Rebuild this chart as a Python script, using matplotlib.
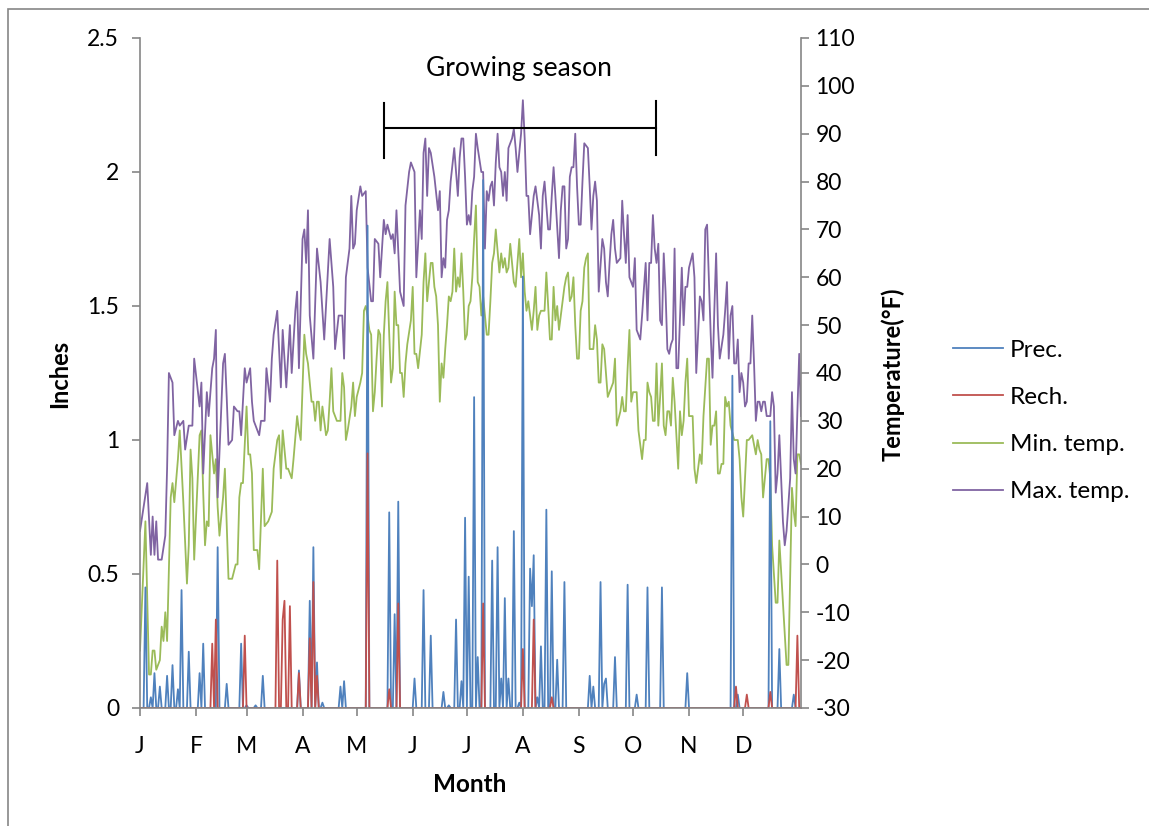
import numpy as np
import matplotlib
matplotlib.use("Agg")
import matplotlib.pyplot as plt
from matplotlib.lines import Line2D
from matplotlib.patches import Rectangle

plt.rcParams["font.family"] = ["Lato", "DejaVu Sans"]
plt.rcParams["axes.unicode_minus"] = False

# -- Data --------------------------------------------------------------------
month_labels = ["J", "F", "M", "A", "M", "J", "J", "A", "S", "O", "N", "D"]
month_start_days = [0, 31, 59, 90, 120, 151, 181, 212, 243, 273, 304, 334]

max_days = [0, 2, 4, 6, 7, 8, 9, 10, 12, 14, 15, 16, 18, 19, 21, 22, 24, 25, 27, 29,
            30, 33, 34, 35, 37, 38, 40, 41, 42, 43, 46, 47, 48, 49, 51, 52, 54, 55, 56, 58,
            59, 61, 62, 63, 66, 67, 69, 70, 72, 73, 74, 76, 78, 79, 81, 83, 84, 86, 87, 88,
            90, 91, 92, 93, 94, 96, 98, 100, 102, 105, 107, 108, 110, 112, 113, 114, 116, 117, 118, 119,
            120, 122, 123, 125, 126, 128, 129, 130, 132, 133, 135, 136, 137, 139, 140, 141, 142, 144, 146, 147,
            149, 150, 152, 153, 155, 156, 157, 158, 159, 160, 161, 163, 165, 166, 167, 168, 169, 170, 171, 172,
            174, 176, 177, 178, 179, 180, 181, 182, 183, 184, 185, 186, 187, 189, 190, 191, 192, 193, 194, 195,
            196, 197, 198, 199, 200, 201, 202, 203, 204, 206, 207, 208, 209, 211, 212, 213, 214, 215, 216, 218,
            219, 221, 222, 223, 224, 226, 227, 228, 229, 230, 232, 233, 234, 235, 236, 237, 238, 239, 240, 241,
            242, 243, 244, 245, 246, 248, 249, 250, 251, 252, 253, 254, 256, 257, 258, 259, 260, 261, 262, 263,
            264, 266, 267, 268, 269, 270, 271, 273, 274, 275, 277, 278, 280, 281, 282, 283, 284, 285, 286, 287,
            288, 289, 290, 291, 292, 293, 294, 295, 296, 297, 298, 300, 301, 302, 303, 304, 306, 307, 308, 310,
            311, 312, 313, 314, 316, 317, 318, 319, 320, 321, 323, 324, 325, 326, 327, 328, 329, 330, 331, 332,
            333, 334, 335, 336, 337, 338, 339, 340, 341, 342, 343, 344, 345, 346, 347, 349, 350, 351, 352, 353,
            354, 356, 357, 358, 360, 361, 362, 363, 364, 365, 366]
max_temp = [7, 12, 17, 2, 10, 2, 9, 1, 1, 6, 20, 40, 38, 27, 30, 29, 30, 24, 29, 29,
            43, 33, 38, 19, 36, 31, 41, 43, 49, 14, 42, 44, 35, 25, 26, 33, 32, 32, 27, 41,
            38, 41, 34, 30, 27, 30, 30, 41, 34, 43, 48, 53, 37, 49, 37, 50, 40, 53, 57, 41,
            68, 70, 63, 74, 52, 43, 66, 59, 47, 68, 58, 45, 52, 52, 43, 60, 66, 77, 66, 67,
            74, 79, 77, 78, 62, 55, 55, 68, 67, 60, 72, 69, 71, 68, 69, 65, 74, 57, 54, 75,
            82, 84, 82, 60, 74, 68, 86, 89, 77, 87, 86, 81, 74, 78, 60, 64, 62, 72, 74, 80,
            87, 77, 85, 89, 89, 81, 71, 73, 71, 78, 81, 90, 87, 82, 82, 66, 78, 76, 79, 80,
            75, 84, 90, 83, 82, 77, 82, 76, 87, 89, 91, 87, 82, 90, 97, 89, 77, 77, 69, 77,
            79, 73, 66, 77, 80, 70, 70, 77, 83, 77, 64, 74, 79, 79, 66, 68, 81, 83, 83, 90,
            79, 71, 71, 80, 88, 87, 79, 70, 77, 80, 76, 57, 68, 66, 59, 56, 63, 69, 72, 66,
            63, 64, 76, 69, 63, 73, 60, 58, 64, 49, 47, 52, 63, 51, 63, 63, 73, 66, 63, 67,
            51, 50, 65, 57, 45, 44, 46, 47, 66, 41, 41, 62, 50, 58, 58, 62, 65, 60, 40, 56,
            55, 51, 70, 71, 48, 39, 53, 65, 50, 43, 48, 53, 59, 43, 52, 54, 42, 42, 47, 36,
            40, 38, 33, 34, 42, 42, 52, 42, 30, 34, 34, 32, 34, 34, 31, 31, 36, 33, 15, 19,
            27, 9, 4, 7, 18, 36, 22, 19, 32, 44, 31]

min_days = [0, 3, 5, 6, 7, 8, 9, 11, 12, 13, 14, 15, 17, 18, 19, 21, 22, 24, 26, 27,
            28, 29, 30, 33, 34, 35, 36, 37, 38, 39, 41, 42, 43, 44, 46, 47, 49, 51, 53, 54,
            55, 56, 57, 59, 60, 61, 62, 63, 65, 66, 68, 69, 71, 73, 74, 76, 77, 78, 79, 81,
            82, 84, 85, 87, 88, 89, 91, 92, 93, 95, 96, 97, 98, 99, 100, 101, 103, 104, 105, 106,
            107, 108, 109, 111, 112, 113, 114, 115, 117, 118, 119, 120, 122, 123, 124, 125, 126, 127, 128, 129,
            130, 131, 132, 133, 134, 135, 136, 137, 138, 139, 140, 141, 142, 143, 144, 145, 146, 147, 148, 150,
            151, 152, 153, 154, 156, 157, 158, 159, 160, 161, 162, 163, 164, 165, 166, 167, 168, 169, 170, 171,
            172, 173, 174, 175, 176, 177, 178, 179, 180, 181, 182, 183, 184, 185, 186, 187, 188, 189, 190, 192,
            193, 194, 195, 196, 197, 199, 200, 201, 202, 203, 204, 205, 207, 208, 210, 211, 212, 213, 214, 215,
            216, 217, 218, 219, 220, 221, 222, 224, 225, 227, 228, 229, 230, 231, 232, 234, 235, 236, 237, 238,
            239, 240, 241, 242, 243, 244, 245, 246, 247, 248, 249, 251, 252, 253, 254, 255, 256, 257, 259, 260,
            262, 263, 264, 266, 267, 268, 269, 270, 271, 272, 273, 275, 276, 278, 279, 280, 281, 282, 283, 284,
            285, 286, 287, 288, 289, 290, 291, 292, 293, 294, 295, 296, 298, 299, 300, 301, 302, 303, 304, 306,
            307, 308, 310, 311, 312, 314, 315, 316, 317, 318, 319, 320, 321, 322, 323, 324, 325, 326, 327, 329,
            331, 332, 333, 334, 336, 337, 339, 340, 341, 342, 343, 344, 345, 347, 348, 349, 350, 352, 353, 354,
            358, 359, 360, 361, 362, 363, 364, 365, 366]
min_temp = [-18, 9, -23, -23, -18, -18, -22, -20, -13, -16, -10, -16, 14, 17, 13, 22, 28, 13, -4, 4,
            24, 18, 1, 27, 28, 15, 4, 9, 8, 27, 19, 22, 12, 6, 14, 20, -3, -3, 0, 0,
            14, 17, 17, 33, 23, 23, 19, 3, 3, -1, 20, 8, 9, 11, 20, 26, 27, 18, 28, 20,
            20, 18, 22, 31, 28, 26, 48, 44, 42, 34, 34, 30, 34, 34, 28, 33, 27, 28, 34, 41,
            32, 31, 30, 30, 40, 37, 26, 28, 33, 38, 31, 35, 38, 40, 53, 54, 52, 49, 48, 32,
            36, 43, 49, 48, 33, 48, 55, 59, 48, 38, 41, 57, 50, 50, 40, 40, 35, 42, 46, 51,
            58, 44, 44, 41, 48, 59, 65, 55, 59, 63, 63, 58, 56, 50, 34, 42, 39, 45, 50, 56,
            55, 57, 66, 57, 60, 58, 65, 57, 47, 48, 54, 55, 60, 68, 75, 59, 58, 52, 56, 48,
            48, 55, 63, 65, 70, 61, 65, 62, 64, 61, 62, 67, 59, 58, 68, 60, 65, 57, 53, 55,
            52, 49, 53, 58, 49, 52, 53, 53, 61, 47, 47, 58, 51, 54, 49, 55, 58, 60, 61, 55,
            56, 60, 50, 43, 43, 53, 55, 62, 64, 65, 45, 45, 50, 47, 38, 38, 46, 45, 35, 36,
            38, 43, 29, 32, 35, 32, 32, 41, 49, 34, 36, 36, 28, 22, 26, 26, 38, 36, 35, 30,
            30, 42, 29, 35, 42, 29, 27, 32, 32, 29, 39, 34, 20, 32, 27, 30, 38, 43, 31, 31,
            20, 17, 23, 21, 31, 43, 43, 25, 29, 29, 32, 19, 19, 21, 21, 35, 33, 34, 29, 26,
            26, 22, 14, 10, 26, 26, 27, 25, 23, 26, 24, 23, 14, 22, 22, 18, 4, -8, -8, 5,
            -21, -21, -2, 16, 11, 8, 23, 23, 21]

prec_days = [3, 6, 8, 11, 15, 18, 21, 23, 27, 33, 35, 43, 48, 56, 59, 64, 68, 88, 94, 96,
             98, 101, 111, 113, 126, 138, 141, 143, 152, 157, 161, 168, 171, 175, 178, 180, 182, 185, 187, 190,
             195, 198, 200, 202, 204, 207, 210, 212, 216, 217, 218, 220, 222, 225, 228, 231, 235, 249, 251, 255,
             257, 258, 263, 270, 275, 281, 289, 303, 328, 331, 349, 354, 362]
prec_inches = [0.45, 0.04, 0.13, 0.08, 0.12, 0.16, 0.07, 0.44, 0.21, 0.13, 0.24, 0.60, 0.09, 0.24, 0.01, 0.01, 0.12, 0.14, 0.40, 0.60,
               0.17, 0.02, 0.08, 0.10, 1.80, 0.73, 0.35, 0.77, 0.11, 0.44, 0.27, 0.06, 0.01, 0.33, 0.10, 0.71, 0.49, 1.16, 0.19, 1.97,
               0.55, 0.60, 0.11, 0.41, 0.11, 0.66, 0.02, 1.61, 0.52, 0.38, 0.57, 0.04, 0.23, 0.74, 0.51, 0.18, 0.47, 0.12, 0.08, 0.47,
               0.09, 0.11, 0.19, 0.46, 0.05, 0.45, 0.45, 0.13, 1.24, 0.05, 1.07, 0.22, 0.05]

rech_days = [40, 42, 58, 76, 79, 80, 83, 88, 94, 96, 98, 126, 138, 143, 190, 212, 218, 228, 330, 336,
             349, 364]
rech_inches = [0.24, 0.33, 0.27, 0.55, 0.33, 0.40, 0.38, 0.13, 0.26, 0.47, 0.12, 0.95, 0.07, 0.39, 0.39, 0.22, 0.33, 0.04, 0.08, 0.05,
               0.06, 0.27]

n_days = 367
day_axis = np.arange(n_days)
prec = np.zeros(n_days)
prec[prec_days] = prec_inches
rech = np.zeros(n_days)
rech[rech_days] = rech_inches

# -- Style -------------------------------------------------------------------
C_PREC = "#4F81BD"
C_RECH = "#C0504D"
C_MIN = "#9BBB59"
C_MAX = "#8064A2"
GRAY = "#868686"
LW = 1.3

W, H = 1149, 826
fig = plt.figure(figsize=(W / 100, H / 100), dpi=100)

# chart-area border (only top and left edges fall inside the picture)
fig.patches.append(Rectangle((8 / W, -0.2), 1.5, 1.2 - 9 / H, transform=fig.transFigure,
                             fill=False, edgecolor=GRAY, linewidth=1.2))

ax = fig.add_axes([140 / W, 1 - 708 / H, 661 / W, 670 / H])
ax2 = ax.twinx()
ax.set_zorder(ax2.get_zorder() + 1)
ax.patch.set_visible(False)

ax2.plot(min_days, min_temp, color=C_MIN, lw=LW)
ax2.plot(max_days, max_temp, color=C_MAX, lw=LW)
ax.plot(day_axis, prec, color=C_PREC, lw=LW)
ax.plot(day_axis, rech, color=C_RECH, lw=LW)

ax.set_xlim(0, 366)
ax.set_ylim(0, 2.5)
ax2.set_ylim(-30, 110)
ax.set_yticks(np.arange(0, 2.51, 0.5))
ax.set_yticklabels(["0", "0.5", "1", "1.5", "2", "2.5"])
ax2.set_yticks(np.arange(-30, 111, 10))
ax.set_xticks(month_start_days)
ax.set_xticklabels(month_labels)

for a in (ax, ax2):
    a.spines["top"].set_visible(False)
    for s in ("left", "right", "bottom"):
        a.spines[s].set_color(GRAY)
        a.spines[s].set_linewidth(1.2)
ax.spines["right"].set_visible(False)
ax2.spines["left"].set_visible(False)
ax2.spines["bottom"].set_visible(False)

ax.tick_params(axis="y", direction="out", length=6, width=1.2, color=GRAY, pad=9, labelsize=16.5)
ax.tick_params(axis="x", direction="out", length=6, width=1.2, color=GRAY, pad=14, labelsize=16.5)
ax2.tick_params(axis="y", direction="out", length=6, width=1.2, color=GRAY, pad=4.5, labelsize=16.5)

fig.text(60 / W, 1 - 374 / H, "Inches", rotation=90, ha="center", va="center",
         fontsize=17, fontweight="bold")
fig.text(893 / W, 1 - 374 / H, "Temperature(°F)", rotation=90, ha="center", va="center",
         fontsize=17, fontweight="bold")
fig.text(470 / W, 1 - 784 / H, "Month", ha="center", va="center",
         fontsize=17.5, fontweight="bold")

# -- Growing season bracket ---------------------------------------------------
ax2.plot([135.7, 285.8], [91.2, 91.2], color="black", lw=1.5)
ax2.plot([135.1, 135.1], [84.9, 96.4], color="black", lw=1.5)
ax2.plot([285.8, 285.8], [85.5, 96.8], color="black", lw=1.5)
ax2.text(209.9, 103.7, "Growing season", ha="center", va="center", fontsize=19)

# -- Legend ------------------------------------------------------------------
handles = [Line2D([], [], color=C_PREC, lw=LW),
           Line2D([], [], color=C_RECH, lw=LW),
           Line2D([], [], color=C_MIN, lw=LW),
           Line2D([], [], color=C_MAX, lw=LW)]
fig.legend(handles, ["Prec.", "Rech.", "Min. temp.", "Max. temp."],
           loc="center left", bbox_to_anchor=(953 / W, 1 - 421 / H),
           frameon=False, fontsize=17.5, handlelength=2.06, handletextpad=0.29,
           labelspacing=1.07, borderpad=0, borderaxespad=0)

fig.savefig("out.png", dpi=100)
